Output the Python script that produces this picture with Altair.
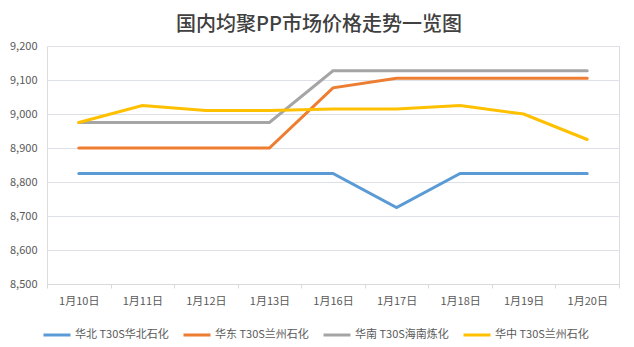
import altair as alt
import pandas as pd

dates = ["1月10日", "1月11日", "1月12日", "1月13日", "1月16日",
         "1月17日", "1月18日", "1月19日", "1月20日"]
series_names = ["华北 T30S华北石化", "华东 T30S兰州石化", "华南 T30S海南炼化", "华中 T30S兰州石化"]
huabei = [8825, 8825, 8825, 8825, 8825, 8725, 8825, 8825, 8825]
huadong = [8900, 8900, 8900, 8900, 9077, 9105, 9105, 9105, 9105]
huanan = [8975, 8975, 8975, 8975, 9127, 9127, 9127, 9127, 9127]
huazhong = [8975, 9025, 9010, 9010, 9015, 9015, 9025, 9000, 8925]
colors = ["#5B9BD5", "#ED7D31", "#A5A5A5", "#FFC000"]
y_ticks = [8500, 8600, 8700, 8800, 8900, 9000, 9100, 9200]

rows = []
for name, vals in zip(series_names, [huabei, huadong, huanan, huazhong]):
    for d, v in zip(dates, vals):
        rows.append({"date": d, "series": name, "price": v})
df = pd.DataFrame(rows)

FONT = "Noto Sans CJK SC"

chart = alt.Chart(df).mark_line(strokeWidth=3, strokeCap="round").encode(
    x=alt.X("date:N", sort=dates,
            scale=alt.Scale(type="band", paddingInner=0, paddingOuter=0),
            axis=alt.Axis(title=None, labelAngle=0, tickBand="extent",
                          domainColor="#D9D9D9", tickColor="#D9D9D9", tickSize=4,
                          labelColor="#595959", labelFontSize=11, labelFont=FONT,
                          labelPadding=7, grid=False)),
    y=alt.Y("price:Q", scale=alt.Scale(domain=[8500, 9200], nice=False, zero=False),
            axis=alt.Axis(title=None, values=y_ticks, format=",.0f", domain=False, ticks=False,
                          gridColor="#DDE1E7", labelColor="#595959", labelFontSize=11,
                          labelFont=FONT, labelPadding=10)),
    color=alt.Color("series:N", sort=series_names,
                    scale=alt.Scale(domain=series_names, range=colors),
                    legend=alt.Legend(title=None, orient="none", direction="horizontal",
                                      legendX=-5, legendY=274,
                                      symbolType="stroke", symbolSize=729, symbolStrokeWidth=3,
                                      labelFontSize=11, labelColor="#595959", labelFont=FONT,
                                      labelOffset=3, columnPadding=8)),
    order=alt.Order("series:N"),
).properties(
    width=572, height=238,
    padding={"left": 39, "top": 38, "right": 6, "bottom": 62},
    autosize=alt.AutoSizeParams(type="none"),
    title=alt.TitleParams("国内均聚PP市场价格走势一览图", fontSize=20, font=FONT,
                          fontWeight=500, color="#404040", anchor="middle",
                          offset=5, dx=-14),
).configure_view(stroke=None).configure(background="white")

chart.save("out.html", embed_options={"renderer": "svg", "actions": False})
